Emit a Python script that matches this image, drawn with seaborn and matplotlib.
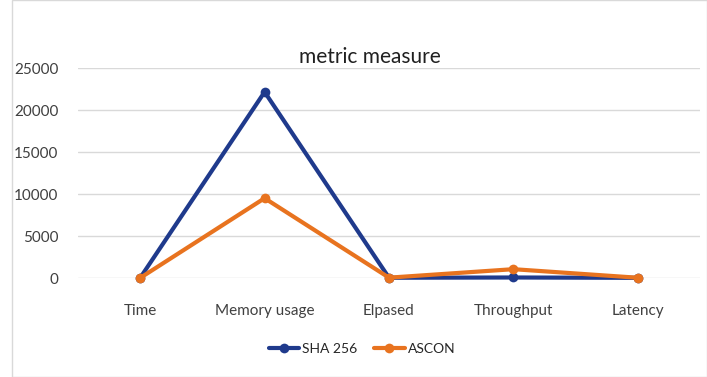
import matplotlib.pyplot as plt
import pandas as pd
import seaborn as sns
from matplotlib.patches import Rectangle

metrics = ["Time", "Memory usage", "Elpased", "Throughput", "Latency"]
sha256 = [20, 22150, 30, 60, 20]
ascon = [10, 9500, 40, 1050, 30]

df = pd.DataFrame({
    "metric": metrics * 2,
    "value": sha256 + ascon,
    "algo": ["SHA 256"] * len(metrics) + ["ASCON"] * len(metrics),
})
df["x"] = df["metric"].map({m: i for i, m in enumerate(metrics)})

sns.set_style("white")
plt.rcParams["font.family"] = ["Lato", "DejaVu Sans"]

fig = plt.figure(figsize=(7.07, 3.77), dpi=100)
ax = fig.add_axes([78 / 707, 1 - 278 / 377, 622 / 707, 210 / 377])

sns.lineplot(data=df, x="x", y="value", hue="algo", sort=False,
             palette={"SHA 256": "#1F3A8C", "ASCON": "#E8731F"},
             marker="o", markersize=7, markeredgewidth=0, linewidth=3,
             ax=ax, legend=False, clip_on=False)

ax.set_xlim(-0.5, len(metrics) - 0.5)
ax.set_ylim(0, 25000)
ax.set_yticks(range(0, 25001, 5000))
ax.set_xticks(range(len(metrics)))
ax.set_xticklabels(metrics)
ax.yaxis.grid(True, color="#d9d9d9", linewidth=1)
ax.set_axisbelow(True)
for s in ax.spines.values():
    s.set_visible(False)
ax.tick_params(axis="both", length=0, labelsize=11, colors="#404040")
ax.tick_params(axis="x", pad=19)
ax.tick_params(axis="y", pad=14)
ax.set_xlabel("")
ax.set_ylabel("")

fig.text(370 / 707, 1 - 57 / 377, "metric measure", ha="center", va="center",
         fontsize=15, color="#202020")

# legend
handles = [plt.Line2D([], [], color="#1F3A8C", lw=3, marker="o", ms=7, mew=0),
           plt.Line2D([], [], color="#E8731F", lw=3, marker="o", ms=7, mew=0)]
fig.legend(handles, ["SHA 256", "ASCON"], loc="center", ncol=2,
           bbox_to_anchor=(362 / 707, 1 - 349 / 377), frameon=False,
           fontsize=10, handlelength=2.2, handletextpad=0.2, columnspacing=1.2)

fig.patches.append(Rectangle((12 / 707, 0), 1 - 12 / 707, 1, transform=fig.transFigure,
                             fill=False, edgecolor="#d9d9d9", linewidth=1))

fig.savefig("out.png", dpi=100)
